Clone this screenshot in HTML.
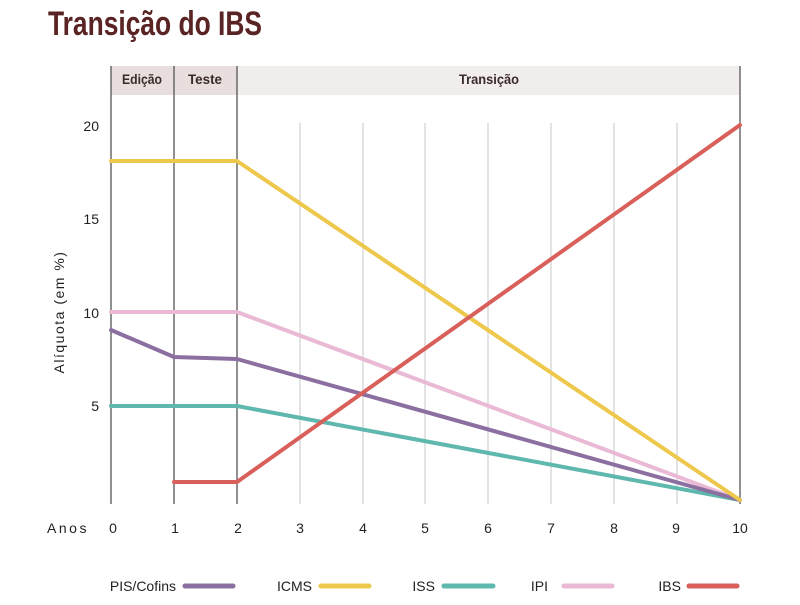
<!DOCTYPE html>
<html><head><meta charset="utf-8"><style>
body{margin:0;background:#fff;width:800px;height:600px;overflow:hidden}
svg text{font-family:"Liberation Sans Narrow","Liberation Sans",sans-serif}
</style></head><body>
<svg width="800" height="600" viewBox="0 0 800 600" xmlns="http://www.w3.org/2000/svg">
<text x="48" y="35" font-size="34" font-weight="bold" fill="#5a2424" textLength="214" lengthAdjust="spacingAndGlyphs">Transição do IBS</text>
<rect x="111" y="66" width="126" height="29" fill="#e9dede"/>
<rect x="237" y="66" width="503" height="29" fill="#f2eded"/>
<g font-size="14" font-weight="bold" fill="#3a2a2a" text-anchor="middle">
<text x="142" y="84" textLength="40" lengthAdjust="spacingAndGlyphs">Edição</text><text x="205" y="84" textLength="34" lengthAdjust="spacingAndGlyphs">Teste</text><text x="489" y="84" textLength="60" lengthAdjust="spacingAndGlyphs">Transição</text>
</g>
<g stroke="#d4d4d4" stroke-width="1.3">
<line x1="300" y1="123" x2="300" y2="504"/><line x1="363" y1="123" x2="363" y2="504"/>
<line x1="425" y1="123" x2="425" y2="504"/><line x1="488" y1="123" x2="488" y2="504"/>
<line x1="551" y1="123" x2="551" y2="504"/><line x1="614" y1="123" x2="614" y2="504"/>
<line x1="677" y1="123" x2="677" y2="504"/>
</g>
<g stroke="#555" stroke-width="1.3">
<line x1="111" y1="66" x2="111" y2="504"/><line x1="174" y1="66" x2="174" y2="504"/>
<line x1="237" y1="66" x2="237" y2="504"/><line x1="740" y1="66" x2="740" y2="504"/>
</g>
<g font-size="14" fill="#222" text-anchor="end">
<text x="99" y="131">20</text><text x="99" y="224">15</text><text x="99" y="318">10</text><text x="99" y="411">5</text>
</g>
<text transform="translate(64,312) rotate(-90)" font-size="14" fill="#222" text-anchor="middle" letter-spacing="1.5">Alíquota (em %)</text>
<g font-size="14" fill="#222" text-anchor="middle">
<text x="68" y="533" letter-spacing="2.5">Anos</text>
<text x="113" y="533">0</text><text x="175" y="533">1</text><text x="238" y="533">2</text><text x="300" y="533">3</text>
<text x="363" y="533">4</text><text x="425" y="533">5</text><text x="488" y="533">6</text><text x="551" y="533">7</text>
<text x="614" y="533">8</text><text x="676" y="533">9</text><text x="740" y="533">10</text>
</g>
<g fill="none" stroke-width="4" stroke-linejoin="round" stroke-linecap="round">
<polyline points="111,312 237,312 740,500" stroke="#e9b9d5"/>
<polyline points="111,406 237,406 740,500" stroke="#5fb8ad"/>
<polyline points="111,330 174,357 237,359 740,500" stroke="#8a6fa0"/>
<polyline points="111,161 237,161 740,500" stroke="#eec84c"/>
<polyline points="174,482 237,482 740,125" stroke="#d9605a"/>
</g>
<g font-size="14" fill="#222" text-anchor="end">
<text x="176" y="591">PIS/Cofins</text><text x="312" y="591">ICMS</text><text x="435" y="591">ISS</text>
<text x="548" y="591">IPI</text><text x="681" y="591">IBS</text>
</g>
<g stroke-width="5" stroke-linecap="round">
<line x1="185" y1="586" x2="233" y2="586" stroke="#8a6fa0"/>
<line x1="321" y1="586" x2="369" y2="586" stroke="#eec84c"/>
<line x1="444" y1="586" x2="493" y2="586" stroke="#5fb8ad"/>
<line x1="564" y1="586" x2="612" y2="586" stroke="#e9b9d5"/>
<line x1="689" y1="586" x2="737" y2="586" stroke="#d9605a"/>
</g>
</svg>
</body></html>
